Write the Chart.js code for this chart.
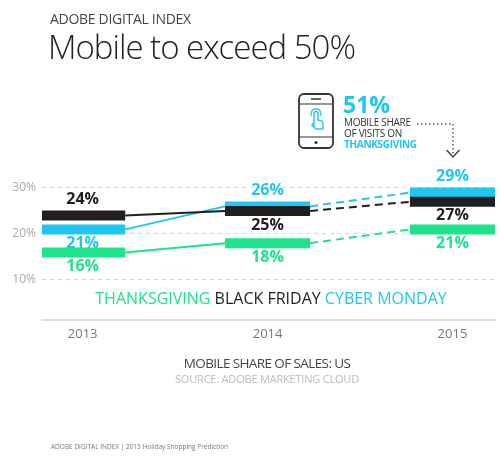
<!DOCTYPE html>
<html>
<head>
<meta charset="utf-8">
<script src="https://cdn.jsdelivr.net/npm/chart.js@4.4.0/dist/chart.umd.min.js"></script>
<style>
  html, body { margin: 0; padding: 0; background: #fff; }
  #wrap { position: relative; width: 500px; height: 467px; overflow: hidden; font-family: 'Open Sans', sans-serif; }
  #wrap canvas { position: absolute; left: 0; top: 0; }
  #wrap svg { position: absolute; left: 0; top: 0; }
  .txt { position: absolute; white-space: nowrap; line-height: 1; }
</style>
</head>
<body>
<div id="wrap">
  <canvas id="chart" width="500" height="467"></canvas>

  <div class="txt" style="left:50px; top:12px; font-size:14px; letter-spacing:-0.3px; color:#444;">ADOBE DIGITAL INDEX</div>
  <div class="txt" style="left:48px; top:30px; font-size:33px; font-weight:300; letter-spacing:-1px; color:#222;">Mobile to exceed 50%</div>

  <svg width="500" height="467">
    <!-- phone -->
    <rect x="299" y="94" width="34" height="54" rx="5" fill="none" stroke="#333" stroke-width="1.8"/>
    <line x1="311" y1="99" x2="321" y2="99" stroke="#333" stroke-width="1.5"/>
    <line x1="299" y1="104" x2="333" y2="104" stroke="#333" stroke-width="1.2"/>
    <line x1="299" y1="137" x2="333" y2="137" stroke="#333" stroke-width="1.2"/>
    <circle cx="316" cy="142.5" r="1.6" fill="#333"/>
    <!-- touch hand -->
    <path d="M311.5,116 a5,5 0 1 1 9,0" fill="none" stroke="#1fc6f1" stroke-width="1.4"/>
    <path d="M314,127 V113.5 a2,2 0 0 1 4,0 V120 l3.5,1 a2,2 0 0 1 1.5,2 V129 h-7 l-3.5,-3 a1.5,1.5 0 0 1 1.5,-2.5 z" fill="none" stroke="#1fc6f1" stroke-width="1.4" stroke-linejoin="round"/>
    <!-- dotted pointer to 2015 -->
    <polyline points="417,124 453,124 453,156" fill="none" stroke="#555" stroke-width="1.4" stroke-dasharray="1.5 2.5"/>
    <polyline points="446.5,150 453,157 459.5,150" fill="none" stroke="#444" stroke-width="1.5"/>
  </svg>

  <div class="txt" style="left:343px; top:93px; font-size:23px; font-weight:700; color:#1fc6f1;">51%</div>
  <div class="txt" style="left:344px; top:117px; font-size:10px; color:#333; letter-spacing:-0.3px;">MOBILE SHARE</div>
  <div class="txt" style="left:344px; top:128px; font-size:10px; color:#333; letter-spacing:-0.3px;">OF VISITS ON</div>
  <div class="txt" style="left:344px; top:139px; font-size:10px; font-weight:700; color:#1fc6f1; letter-spacing:-0.3px;">THANKSGIVING</div>

  <div class="txt" style="left:267px; top:357px; transform:translateX(-50%); font-size:13.5px; letter-spacing:-0.6px; color:#444;">MOBILE SHARE OF SALES: US</div>
  <div class="txt" style="left:267px; top:373px; transform:translateX(-50%); font-size:11px; letter-spacing:-0.2px; color:#bbb;">SOURCE: ADOBE MARKETING CLOUD</div>
  <div class="txt" style="left:51px; top:444px; font-size:6.5px; color:#777;">ADOBE DIGITAL INDEX | 2015 Holiday Shopping Prediction</div>
</div>

<script>
// Mobile share of US online sales, by shopping day
const years = ['2013', '2014', '2015'];
const thanksgiving = [16, 18, 21];
const blackFriday = [24, 25, 27];
const cyberMonday = [21, 26, 29];
const yTicks = [10, 20, 30];

const green = '#1ee38b';
const black = '#231f20';
const cyan = '#1fc6f1';
const hw = 0.23; // half bar length, in category units

const series = [
  { name: 'THANKSGIVING', values: thanksgiving, color: green, above: [], order: 1 },
  { name: 'BLACK FRIDAY', values: blackFriday, color: black, above: [0], order: 2 },
  { name: 'CYBER MONDAY', values: cyberMonday, color: cyan, above: [1, 2], order: 3 },
];

function barPoints(values) {
  const pts = [];
  values.forEach((v, i) => {
    pts.push({ x: i - hw, y: v }, { x: i + hw, y: v }, { x: i + 0.5, y: null });
  });
  return pts;
}

function linkPoints(values) {
  const pts = [];
  for (let i = 0; i < values.length - 1; i++) {
    pts.push({ x: i + hw, y: values[i] }, { x: i + 1 - hw, y: values[i + 1] }, { x: i + 1, y: null });
  }
  return pts;
}

const datasets = [];
series.forEach(s => {
  datasets.push({
    label: s.name,
    data: barPoints(s.values),
    borderColor: s.color,
    borderWidth: 10,
    borderCapStyle: 'butt',
    pointRadius: 0,
    spanGaps: false,
    order: s.order,
  });
  datasets.push({
    label: s.name + ' trend',
    data: linkPoints(s.values),
    borderColor: s.color,
    borderWidth: 2,
    pointRadius: 0,
    spanGaps: false,
    order: 10,
    segment: {
      // 2015 is a prediction, so its link is dashed
      borderDash: ctx => (ctx.p0.parsed.x > 1 ? [8, 5] : undefined),
    },
  });
});

const valueLabels = {
  id: 'valueLabels',
  afterDatasetsDraw(chart) {
    const { ctx, chartArea, scales: { x, y } } = chart;
    ctx.save();
    ctx.textAlign = 'center';
    ctx.textBaseline = 'middle';
    ctx.font = 'bold 16px "Open Sans"';
    series.forEach(s => {
      s.values.forEach((v, i) => {
        const up = s.above.includes(i);
        ctx.fillStyle = s.color;
        ctx.fillText(v + '%', x.getPixelForValue(i), y.getPixelForValue(v) + (up ? -16 : 14));
      });
    });

    // legend row inside the plot
    ctx.font = '16px "Open Sans"';
    ctx.textAlign = 'left';
    const space = ctx.measureText(' ').width;
    const widths = series.map(s => ctx.measureText(s.name).width);
    const total = widths.reduce((a, b) => a + b, 0) + space * (series.length - 1);
    let lx = 271 - total / 2;
    const ly = chartArea.bottom - 21;
    series.forEach((s, i) => {
      ctx.fillStyle = s.color;
      ctx.fillText(s.name, lx, ly);
      lx += widths[i] + space;
    });
    ctx.restore();
  }
};

new Chart(document.getElementById('chart'), {
  type: 'line',
  data: { datasets },
  options: {
    responsive: false,
    animation: false,
    layout: { padding: { top: 142, right: 5, bottom: 119, left: 0 } },
    plugins: {
      legend: { display: false },
      tooltip: { enabled: false },
    },
    elements: { line: { tension: 0 } },
    scales: {
      x: {
        type: 'linear',
        min: -0.22,
        max: 2.23,
        afterBuildTicks: scale => { scale.ticks = years.map((_, i) => ({ value: i })); },
        afterFit: scale => { scale.height = 28; },
        ticks: {
          callback: v => years[v],
          color: '#777',
          font: { family: 'Open Sans', size: 13 },
          padding: 6,
        },
        grid: { display: false, drawTicks: false },
        border: { display: true, color: '#ddd', width: 2 },
      },
      y: {
        min: 1.3,
        max: 40,
        afterBuildTicks: scale => { scale.ticks = yTicks.map(v => ({ value: v })); },
        afterFit: scale => { scale.width = 42; },
        ticks: {
          callback: v => v + '%',
          color: '#aaa',
          font: { family: 'Open Sans', size: 12 },
          padding: 6,
        },
        grid: { color: '#d6d6d6', lineWidth: 1, drawTicks: false },
        border: { display: false, dash: [4, 4] },
      },
    },
  },
  plugins: [valueLabels],
});
</script>
</body>
</html>
